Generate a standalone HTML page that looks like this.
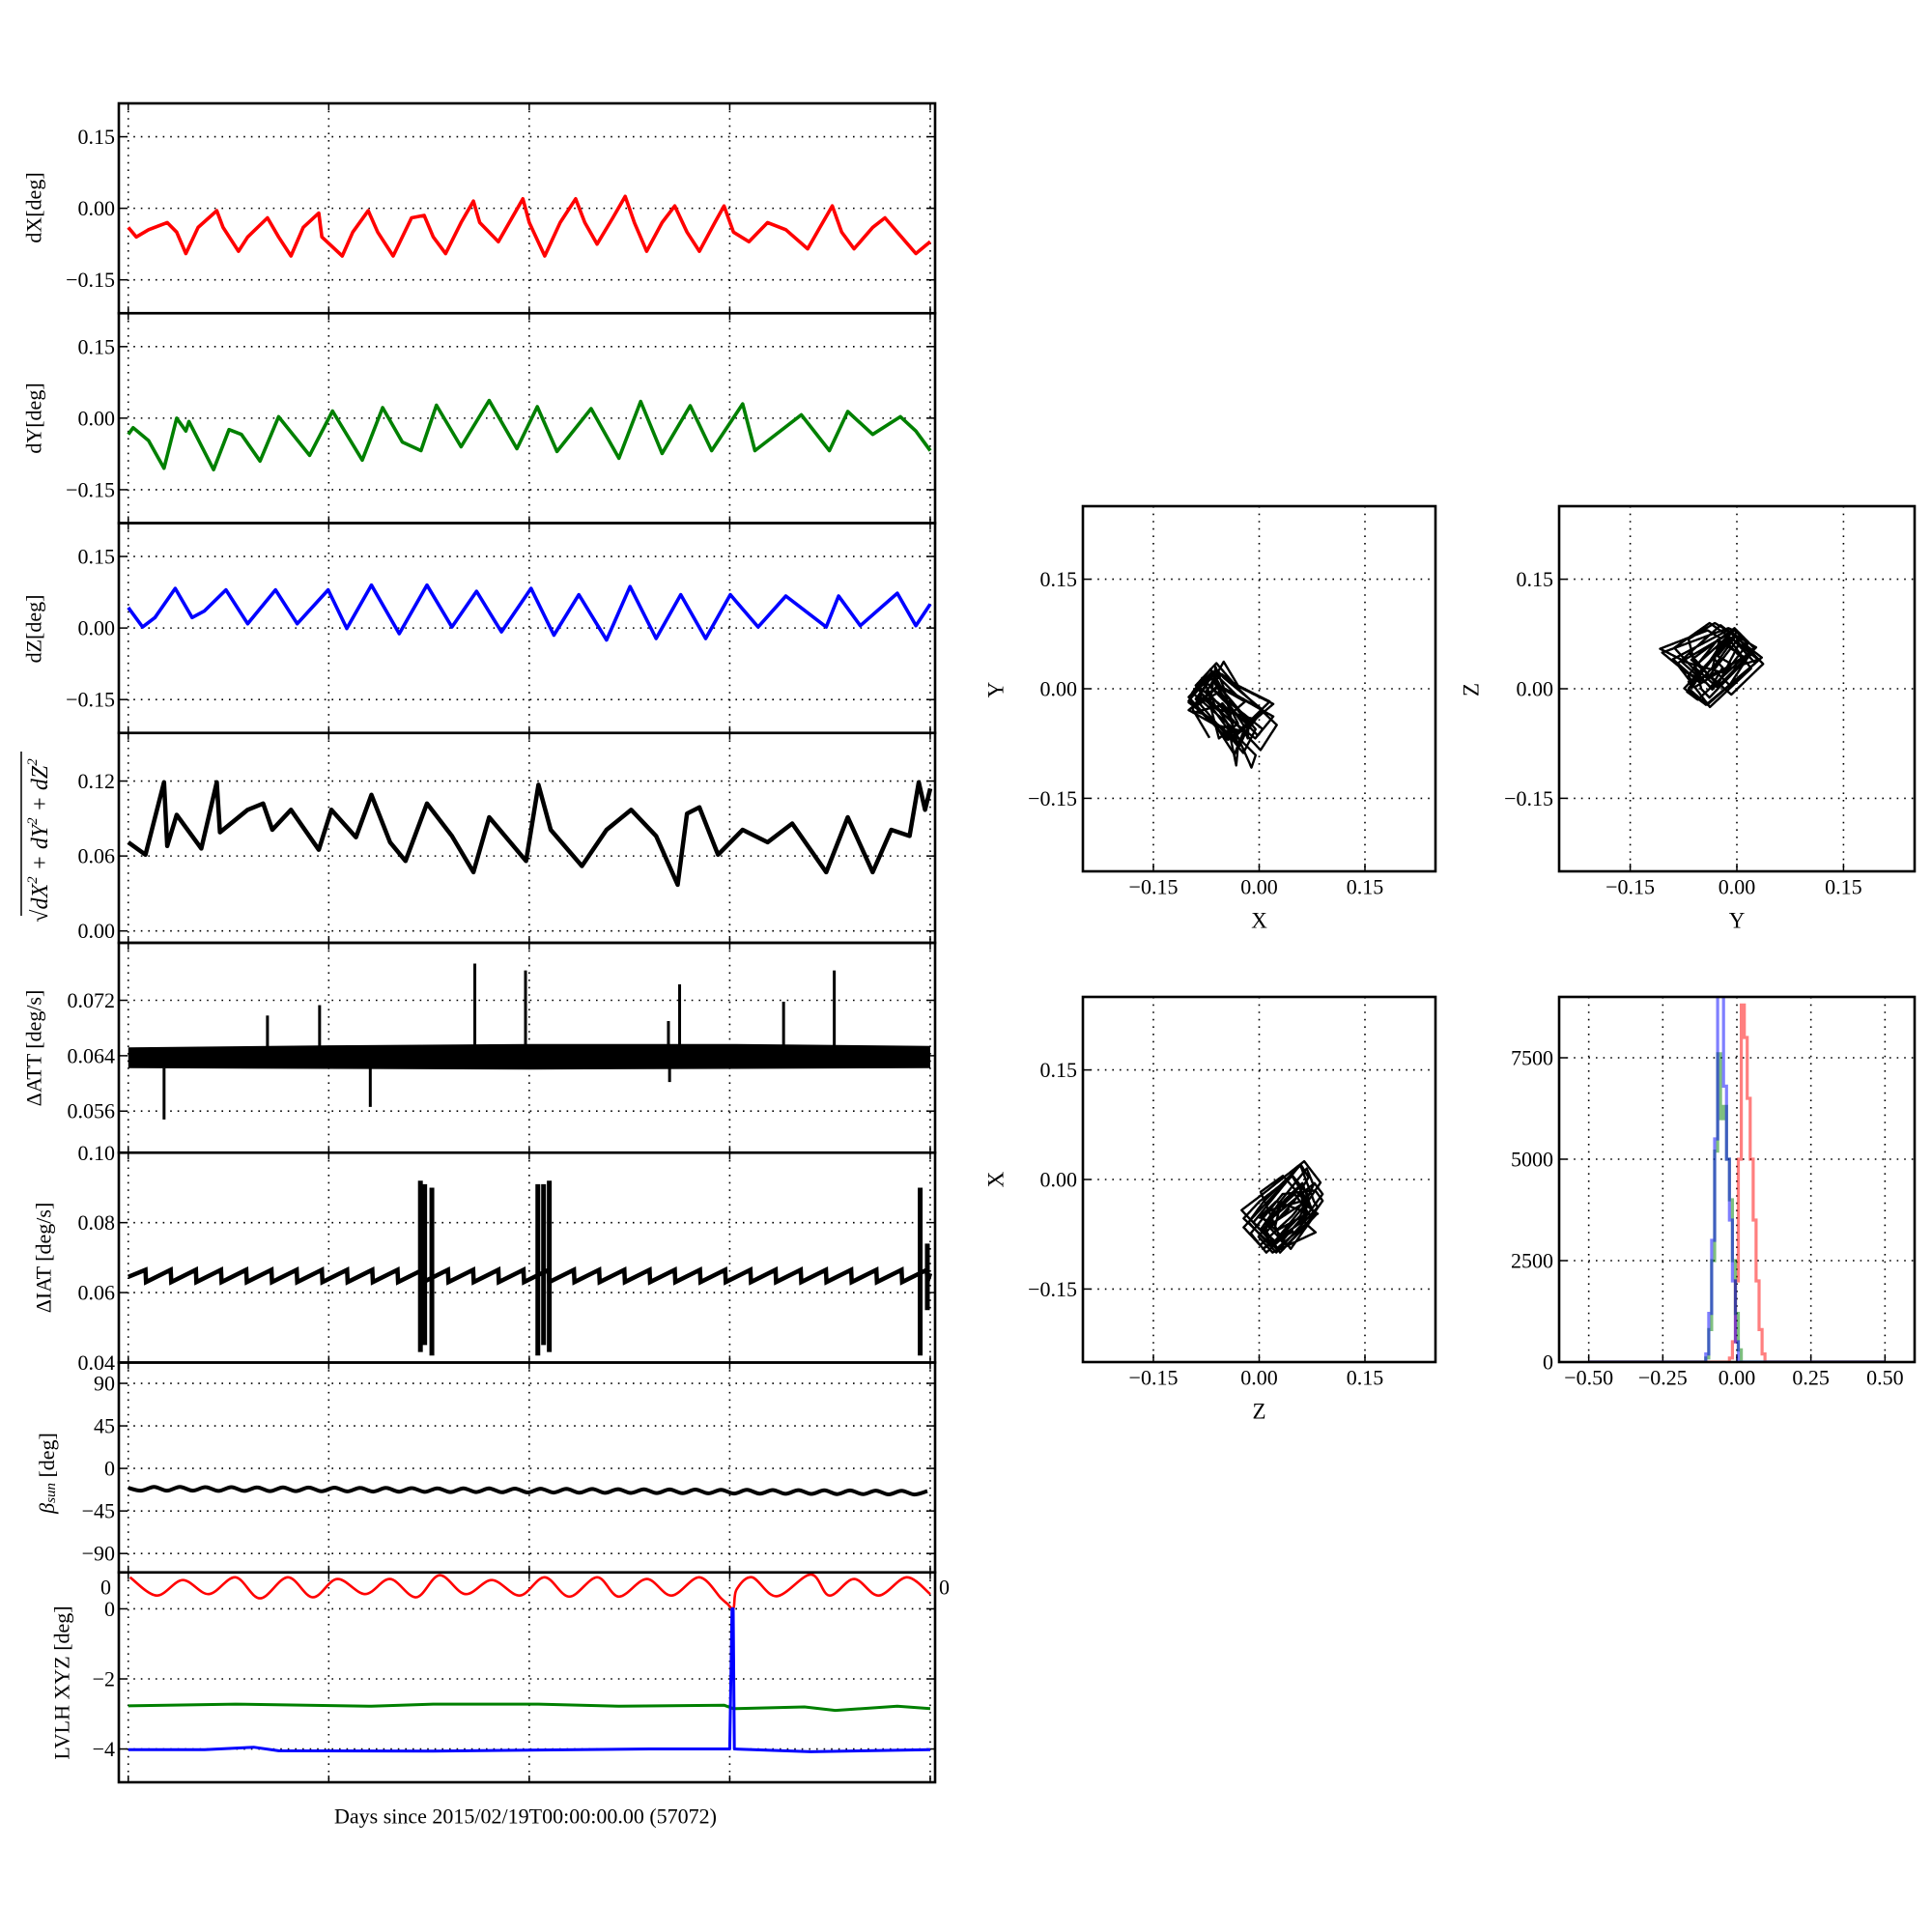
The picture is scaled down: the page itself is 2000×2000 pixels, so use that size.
<!DOCTYPE html>
<html><head><meta charset="utf-8"><style>
html,body{margin:0;padding:0;background:#fff;}
svg{display:block;font-family:"Liberation Serif",serif;}
</style></head><body>
<svg id="fig" width="2000" height="2000" viewBox="0 0 2000 2000" xmlns="http://www.w3.org/2000/svg">
<rect x="0" y="0" width="2000" height="2000" fill="#fff"/>
</svg>
<script>
// ---------- data ----------
const dxDays=[0,0.28,0.71,1.36,1.69,2.01,2.44,3.09,3.31,3.85,4.17,4.86,5.25,5.68,6.11,6.65,6.76,7.47,7.84,8.38,8.71,9.25,9.89,10.33,10.65,11.08,11.62,12.05,12.27,12.92,13.78,14.0,14.54,15.08,15.62,15.94,16.37,16.92,17.35,17.67,18.1,18.64,19.08,19.51,19.94,20.48,20.8,21.13,21.67,22.32,22.96,23.72,24.15,24.58,24.91,25.34,25.99,26.42,26.85,27.5,28];
const dxVals=[-0.04,-0.06,-0.045,-0.03,-0.05,-0.095,-0.04,-0.005,-0.04,-0.09,-0.06,-0.02,-0.06,-0.1,-0.04,-0.01,-0.06,-0.1,-0.05,-0.005,-0.05,-0.1,-0.02,-0.015,-0.06,-0.095,-0.03,0.015,-0.03,-0.07,0.02,-0.03,-0.1,-0.03,0.02,-0.03,-0.075,-0.02,0.025,-0.03,-0.09,-0.03,0.005,-0.05,-0.09,-0.03,0.005,-0.05,-0.07,-0.03,-0.045,-0.085,-0.04,0.005,-0.05,-0.085,-0.04,-0.02,-0.05,-0.095,-0.07];
const dyDays=[0,0.17,0.71,1.25,1.69,2.01,2.12,2.98,3.52,3.95,4.6,5.25,6.33,7.13,8.17,8.88,9.57,10.22,10.76,11.62,12.6,13.57,14.28,14.97,16.16,17.13,17.89,18.64,19.62,20.37,21.45,21.88,23.5,24.48,25.12,25.99,26.96,27.5,28];
const dyVals=[-0.034,-0.02,-0.047,-0.105,0,-0.027,-0.007,-0.108,-0.024,-0.034,-0.09,0.003,-0.078,0.015,-0.088,0.022,-0.05,-0.068,0.027,-0.06,0.037,-0.064,0.024,-0.07,0.02,-0.084,0.035,-0.074,0.026,-0.068,0.03,-0.068,0.007,-0.068,0.014,-0.034,0.003,-0.027,-0.068];
const dzDays=[0,0.5,0.93,1.64,2.23,2.66,3.41,4.17,5.14,5.9,6.98,7.63,8.49,9.46,10.43,11.3,12.16,13.03,14.06,14.86,15.73,16.7,17.52,18.43,19.29,20.16,21.02,21.99,22.96,24.37,24.8,25.56,26.85,27.5,28];
const dzVals=[0.043,0.002,0.022,0.083,0.022,0.036,0.08,0.009,0.08,0.009,0.08,-0.001,0.09,-0.012,0.09,0.002,0.077,-0.008,0.083,-0.015,0.07,-0.025,0.087,-0.022,0.07,-0.022,0.07,0.002,0.067,0.002,0.067,0.005,0.073,0.005,0.05];
const normDays=[0,0.6,1.25,1.36,1.69,2.55,3.09,3.2,4.17,4.71,5.03,5.68,6.65,7.09,7.95,8.49,9.14,9.68,10.43,11.3,12.05,12.6,13.89,14.32,14.75,15.84,16.7,17.56,18.43,19.18,19.51,19.94,20.59,21.45,22.32,23.18,24.37,25.12,25.99,26.64,27.28,27.6,27.82,28];
const normVals=[0.071,0.061,0.119,0.068,0.093,0.066,0.119,0.079,0.097,0.102,0.081,0.097,0.065,0.097,0.075,0.109,0.071,0.056,0.102,0.076,0.047,0.091,0.056,0.117,0.081,0.052,0.081,0.097,0.076,0.037,0.094,0.099,0.061,0.081,0.071,0.086,0.047,0.091,0.047,0.081,0.076,0.119,0.097,0.114];
const attBandDays=[0,7,14,21,28];
const attBandLo=[0.0622,0.0621,0.0620,0.0621,0.0622];
const attBandHi=[0.0652,0.0655,0.0657,0.0657,0.0654];
const attSpikeDays=[1.25,4.86,6.68,8.45,12.1,13.87,18.86,18.9,19.25,22.88,24.65];
const attSpikeVals=[0.0548,0.0698,0.0713,0.0566,0.0773,0.0763,0.069,0.0602,0.0743,0.0718,0.0763];
const iatResets=[0.6,1.48,2.36,3.24,4.12,5.0,5.88,6.76,7.64,8.52,9.4,10.28,11.16,12.04,12.92,13.8,14.68,15.56,16.44,17.32,18.2,19.08,19.96,20.84,21.72,22.6,23.48,24.36,25.24,26.12,27.0,27.88];
const iatLevels=[0.063,0.0665];
const burstDays=[10.2,10.35,10.6,14.3,14.5,14.7,27.65,27.9];
const burstHi=[0.092,0.091,0.090,0.091,0.091,0.092,0.090,0.074];
const burstLo=[0.043,0.045,0.042,0.042,0.045,0.043,0.042,0.055];
const betaVals=[-20.5,-23.5,-19.5,-23.5,-19.5,-23.5,-19.8,-23.8,-19.8,-23.8,-20,-24,-20,-24,-20.2,-24.2,-20.3,-24.3,-20.5,-24.5,-20.6,-24.6,-20.8,-24.8,-21,-25,-21,-25,-21.2,-25.2,-21.4,-25.4,-21.5,-25.5,-21.7,-25.7,-21.8,-25.8,-22,-26,-22.1,-26.1,-22.3,-26.3,-22.4,-26.4,-22.6,-26.6,-22.7,-26.7,-22.9,-26.9,-23,-27,-23.2,-27.2,-23.3,-27.3,-23.5,-27.5,-23.6,-27.6,-24];
const betaStep=0.45;
const lvRedDays=[0.06,0.99,1.9,2.81,3.74,4.6,5.57,6.44,7.3,8.27,9.14,10.05,10.87,11.77,12.7,13.67,14.54,15.4,16.37,17.13,18.1,18.97,19.94,20.7,20.91,21.13,21.24,21.78,22.64,23.83,24.48,25.34,26.2,27.18,28];
const lvRedVals=[0.9,0.38,0.82,0.42,0.9,0.3,0.9,0.33,0.85,0.42,0.85,0.33,0.96,0.42,0.82,0.38,0.9,0.35,0.9,0.35,0.85,0.38,0.9,0.3,0.15,0.02,0.55,0.9,0.36,0.98,0.38,0.85,0.38,0.9,0.42];
const lvGreenDays=[0,3.74,8.49,10.65,14.32,17.13,20.8,21.13,23.61,24.69,26.85,28];
const lvGreenVals=[-2.77,-2.72,-2.78,-2.72,-2.72,-2.78,-2.75,-2.85,-2.8,-2.9,-2.78,-2.85];
const lvBlueDays=[0,2.66,4.38,5.25,10.65,18.21,21.0,21.08,21.12,21.16,23.83,28];
const lvBlueVals=[-4.02,-4.02,-3.95,-4.05,-4.06,-4.0,-4.0,0,0,-4.0,-4.08,-4.02];
const histCenters=[-0.12,-0.11,-0.10,-0.09,-0.08,-0.07,-0.06,-0.05,-0.04,-0.03,-0.02,-0.01,0.00,0.01,0.02,0.03,0.04,0.05,0.06,0.07,0.08,0.09,0.10,0.11,0.12];
const histBlue=[0,0,200,1200,3000,5500,9500,9500,6800,5000,3500,2000,500,0,0,0,0,0,0,0,0,0,0,0,0];
const histGreen=[0,0,100,800,2500,5200,7600,6000,6300,5000,4000,2500,1200,300,0,0,0,0,0,0,0,0,0,0,0];
const histRed=[0,0,0,0,0,0,0,0,0,0,100,500,2000,5000,8800,8000,6500,5000,3500,2000,800,200,0,0,0];
const panelTicks=[[-0.15,0,0.15],[-0.15,0,0.15],[-0.15,0,0.15],[0,0.06,0.12],[0.056,0.064,0.072],[0.04,0.06,0.08,0.10],[-90,-45,0,45,90],[-4,-2,0]];
const panelTickLabels=[["−0.15","0.00","0.15"],["−0.15","0.00","0.15"],["−0.15","0.00","0.15"],["0.00","0.06","0.12"],["0.056","0.064","0.072"],["0.04","0.06","0.08","0.10"],["−90","−45","0","45","90"],["−4","−2","0"]];
const dayTicks=[0,7,14,21,28];
const scatTicks=[-0.15,0,0.15];
const scatTickLabels=["−0.15","0.00","0.15"];
const histXTicks=[-0.5,-0.25,0,0.25,0.5];
const histXLabels=["−0.50","−0.25","0.00","0.25","0.50"];
const histYTicks=[0,2500,5000,7500];
const histYLabels=["0","2500","5000","7500"];

// ---------- helpers ----------
const NS="http://www.w3.org/2000/svg";
const svg=document.getElementById('fig');
function el(tag,attrs,parent){const e=document.createElementNS(NS,tag);for(const k in attrs)e.setAttribute(k,attrs[k]);(parent||svg).appendChild(e);return e;}
function txt(s,x,y,anchor,size,parent){const t=el('text',{x:x,y:y,'text-anchor':anchor,'font-size':size,'dominant-baseline':'central',fill:'#000'},parent);t.textContent=s;return t;}
function lin(pts){return pts.map((p,i)=>(i?'L':'M')+p[0].toFixed(1)+','+p[1].toFixed(1)).join('');}
function smooth(pts){let d='M'+pts[0][0].toFixed(1)+','+pts[0][1].toFixed(1);for(let i=0;i<pts.length-1;i++){const p0=pts[i-1]||pts[i],p1=pts[i],p2=pts[i+1],p3=pts[i+2]||p2;const c1=[p1[0]+(p2[0]-p0[0])/6,p1[1]+(p2[1]-p0[1])/6],c2=[p2[0]-(p3[0]-p1[0])/6,p2[1]-(p3[1]-p1[1])/6];d+='C'+c1[0].toFixed(1)+','+c1[1].toFixed(1)+' '+c2[0].toFixed(1)+','+c2[1].toFixed(1)+' '+p2[0].toFixed(1)+','+p2[1].toFixed(1);}return d;}
function interp(ts,vs,t){if(t<=ts[0])return vs[0];for(let i=1;i<ts.length;i++){if(t<=ts[i]){const f=(t-ts[i-1])/(ts[i]-ts[i-1]);return vs[i-1]+f*(vs[i]-vs[i-1]);}}return vs[vs.length-1];}
let clipId=0;
function clip(x,y,w,h){const id='c'+(clipId++);const cp=el('clipPath',{id:id});el('rect',{x:x,y:y,width:w,height:h},cp);return 'url(#'+id+')';}

// ---------- left stacked panels ----------
const X0=123,X1=968,D0=-0.33,D1=28.17,TOP=107,PH=217.25;
function sx(d){return X0+(d-D0)/(D1-D0)*(X1-X0);}
const ranges=[[-0.22,0.22],[-0.22,0.22],[-0.22,0.22],[-0.0095,0.1585],[0.0500,0.0803],[0.04,0.10],[-110,112],[-4.95,1.04]];
const names=['dx-panel','dy-panel','dz-panel','norm-panel','datt-panel','diat-panel','beta-panel','lvlh-panel'];
const sy=[];
for(let i=0;i<8;i++){const yt=TOP+i*PH,r=ranges[i];sy.push(v=>yt+PH*(r[1]-v)/(r[1]-r[0]));}
const plotGroups=[];
for(let i=0;i<8;i++){
  const yt=TOP+i*PH;
  const g=el('g',{});
  
  
  const grid=el('g',{stroke:'#000','stroke-width':1.6,'stroke-dasharray':'1.6,6'},g);
  
  
  dayTicks.forEach(d=>{el('line',{x1:sx(d),x2:sx(d),y1:yt,y2:yt+PH},grid);el('line',{x1:sx(d),x2:sx(d),y1:yt,y2:yt+7,stroke:'#000','stroke-width':1.5},g);el('line',{x1:sx(d),x2:sx(d),y1:yt+PH-7,y2:yt+PH,stroke:'#000','stroke-width':1.5},g);});
  const yl=el('g',{},g);
  
  
  panelTicks[i].forEach((v,k)=>{const y=sy[i](v);el('line',{x1:X0,x2:X1,y1:y,y2:y},grid);el('line',{x1:X0,x2:X0+8,y1:y,y2:y,stroke:'#000','stroke-width':1.5},g);el('line',{x1:X1-8,x2:X1,y1:y,y2:y,stroke:'#000','stroke-width':1.5},g);txt(panelTickLabels[i][k],X0-4,y,'end',22,yl);});
  const pg=el('g',{'clip-path':clip(X0,yt,X1-X0,PH)},g);
  
  
  plotGroups.push(pg);
  const fr=el('rect',{x:X0,y:yt,width:X1-X0,height:PH,fill:'none',stroke:'#000','stroke-width':2.6});
  
  
}
function series(i,ts,vs,color,w,sm,name){const pts=ts.map((t,k)=>[sx(t),sy[i](vs[k])]);const p=el('path',{d:sm?smooth(pts):lin(pts),fill:'none',stroke:color,'stroke-width':w,'stroke-linejoin':'round'},plotGroups[i]);return p;}
series(0,dxDays,dxVals,'#ff0000',3.6,false,'dx-line');
series(1,dyDays,dyVals,'#008000',3.6,false,'dy-line');
series(2,dzDays,dzVals,'#0000ff',3.6,false,'dz-line');
series(3,normDays,normVals,'#000',4.5,false,'norm-line');
// ATT band + spikes
{const up=attBandDays.map((t,k)=>[sx(t),sy[4](attBandHi[k])]);const dn=attBandDays.map((t,k)=>[sx(t),sy[4](attBandLo[k])]).reverse();
 const b=el('path',{d:lin(up.concat(dn))+'Z',fill:'#000'},plotGroups[4]);
 
 
 attSpikeDays.forEach((t,k)=>{const base=attSpikeVals[k]>0.064?attBandHi[0]:attBandLo[0];const s=el('line',{x1:sx(t),x2:sx(t),y1:sy[4](base),y2:sy[4](attSpikeVals[k]),stroke:'#000','stroke-width':3},plotGroups[4]);});}
// IAT sawtooth
{const pts=[[sx(0),sy[5](0.0645)]];iatResets.forEach((t,k)=>{pts.push([sx(t),sy[5](iatLevels[1])]);pts.push([sx(t+0.02),sy[5](iatLevels[0])]);});pts.push([sx(28),sy[5](0.0655)]);
 const p=el('path',{d:lin(pts),fill:'none',stroke:'#000','stroke-width':4.5},plotGroups[5]);
 
 
 burstDays.forEach((t,k)=>{const b=el('line',{x1:sx(t),x2:sx(t),y1:sy[5](burstHi[k]),y2:sy[5](burstLo[k]),stroke:'#000','stroke-width':5},plotGroups[5]);});}
series(6,betaVals.map((v,k)=>k*betaStep),betaVals,'#000',4,true,'beta-line');
series(7,lvRedDays,lvRedVals,'#ff0000',2.6,true,'lvlh-x-line');
series(7,lvGreenDays,lvGreenVals,'#008000',3,false,'lvlh-y-line');
series(7,lvBlueDays,lvBlueVals,'#0000ff',3,false,'lvlh-z-line');
{const a=txt('0',X0-8,1643,'end',22);
 const b=txt('0',X1+4,1643,'start',22);}
// y labels
function rlabel(s,x,y,size,name){const t=el('text',{x:0,y:0,'text-anchor':'middle','dominant-baseline':'central','font-size':size,transform:`translate(${x},${y}) rotate(-90)`});if(typeof s==='string')t.textContent=s;else s(t);return t;}
rlabel('dX[deg]',35,215,22,'dx-y-label');
rlabel('dY[deg]',35,433,22,'dy-y-label');
rlabel('dZ[deg]',35,651,22,'dz-y-label');
{const t=rlabel(t=>{t.setAttribute('font-style','italic');t.innerHTML='√dX<tspan dy="-8" font-size="15">2</tspan><tspan dy="8"> + dY</tspan><tspan dy="-8" font-size="15">2</tspan><tspan dy="8"> + dZ</tspan><tspan dy="-8" font-size="15">2</tspan>';},42,870,24,'norm-y-label');
 const ov=el('line',{x1:22,x2:22,y1:778,y2:948,stroke:'#000','stroke-width':1.5});
 
 }
rlabel('ΔATT [deg/s]',35,1085,22,'datt-y-label');
rlabel('ΔIAT [deg/s]',45,1302,22,'diat-y-label');
rlabel(t=>{t.innerHTML='<tspan font-style="italic">β</tspan><tspan font-style="italic" font-size="15" dy="5">sun</tspan><tspan dy="-5"> [deg]</tspan>';},48,1525,22,'beta-y-label');
rlabel('LVLH XYZ [deg]',64,1742,22,'lvlh-y-label');
{const t=txt('Days since 2015/02/19T00:00:00.00 (57072)',544,1880,'middle',22);}

// ---------- scatter panels ----------
const fineT=[];for(let t=0;t<=28;t+=0.01)fineT.push(t);
const comp={X:[dxDays,dxVals],Y:[dyDays,dyVals],Z:[dzDays,dzVals]};
function scatter(bx,by,bw,bh,hx,vy,name,ylx,yly){
  const g=el('g',{});
  
  
  const fx=v=>bx+(v+0.25)/0.5*bw, fy=v=>by+(0.25-v)/0.5*bh;
  const grid=el('g',{stroke:'#000','stroke-width':1.6,'stroke-dasharray':'1.6,6'},g);
  
  
  scatTicks.forEach((v,k)=>{el('line',{x1:fx(v),x2:fx(v),y1:by,y2:by+bh},grid);el('line',{x1:bx,x2:bx+bw,y1:fy(v),y2:fy(v)},grid);
    el('line',{x1:bx,x2:bx+8,y1:fy(v),y2:fy(v),stroke:'#000','stroke-width':1.5},g);el('line',{x1:fx(v),x2:fx(v),y1:by+bh-8,y2:by+bh,stroke:'#000','stroke-width':1.5},g);
    txt(scatTickLabels[k],bx-6,fy(v),'end',22,g);txt(scatTickLabels[k],fx(v),by+bh+16,'middle',22,g);});
  const pts=fineT.map(t=>[fx(interp(comp[hx][0],comp[hx][1],t)),fy(interp(comp[vy][0],comp[vy][1],t))]);
  const p=el('path',{d:lin(pts),fill:'none',stroke:'#000','stroke-width':2.4,'stroke-linejoin':'round','clip-path':clip(bx,by,bw,bh)},g);
  
  
  const fr=el('rect',{x:bx,y:by,width:bw,height:bh,fill:'none',stroke:'#000','stroke-width':2.6},g);
  
  
  const xl=txt(hx,bx+bw/2,by+bh+51,'middle',23,g);
  
  
  const yl=el('text',{x:0,y:0,'text-anchor':'middle','dominant-baseline':'central','font-size':23,transform:`translate(${ylx},${yly}) rotate(-90)`},g);
  yl.textContent=vy;
  
  
}
scatter(1121,524,365,378,'X','Y','xy-scatter',1031,714);
scatter(1614,524,368,378,'Y','Z','yz-scatter',1523,714);
scatter(1121,1032,365,378,'Z','X','zx-scatter',1031,1221);

// ---------- histogram ----------
{const bx=1614,by=1032,bw=368,bh=378;
 const g=el('g',{});
 
 
 const fx=v=>bx+(v+0.6)/1.2*bw, fy=v=>by+bh-v/9000*bh;
 const grid=el('g',{stroke:'#000','stroke-width':1.6,'stroke-dasharray':'1.6,6'},g);
 
 
 histXTicks.forEach((v,k)=>{el('line',{x1:fx(v),x2:fx(v),y1:by,y2:by+bh},grid);el('line',{x1:fx(v),x2:fx(v),y1:by+bh-8,y2:by+bh,stroke:'#000','stroke-width':1.5},g);txt(histXLabels[k],fx(v),by+bh+16,'middle',22,g);});
 histYTicks.forEach((v,k)=>{el('line',{x1:bx,x2:bx+bw,y1:fy(v),y2:fy(v)},grid);el('line',{x1:bx,x2:bx+8,y1:fy(v),y2:fy(v),stroke:'#000','stroke-width':1.5},g);txt(histYLabels[k],bx-6,fy(v),'end',22,g);});
 const cp=clip(bx,by,bw,bh);
 [[histRed,'#ff0000','hist-x'],[histGreen,'#008000','hist-y'],[histBlue,'#0000ff','hist-z']].forEach(([arr,c,nm])=>{
   const pts=[[fx(-0.5),fy(0)],[fx(histCenters[0]-0.005),fy(0)]];
   histCenters.forEach((cx,k)=>{pts.push([fx(cx-0.005),fy(arr[k])]);pts.push([fx(cx+0.005),fy(arr[k])]);});
   pts.push([fx(0.5),fy(0)]);
   const p=el('path',{d:lin(pts),fill:'none',stroke:c,'stroke-opacity':0.5,'stroke-width':3.2,'clip-path':cp},g);
   
   
 });
 const fr=el('rect',{x:bx,y:by,width:bw,height:bh,fill:'none',stroke:'#000','stroke-width':2.6},g);
 
 
}
</script>
</body></html>
